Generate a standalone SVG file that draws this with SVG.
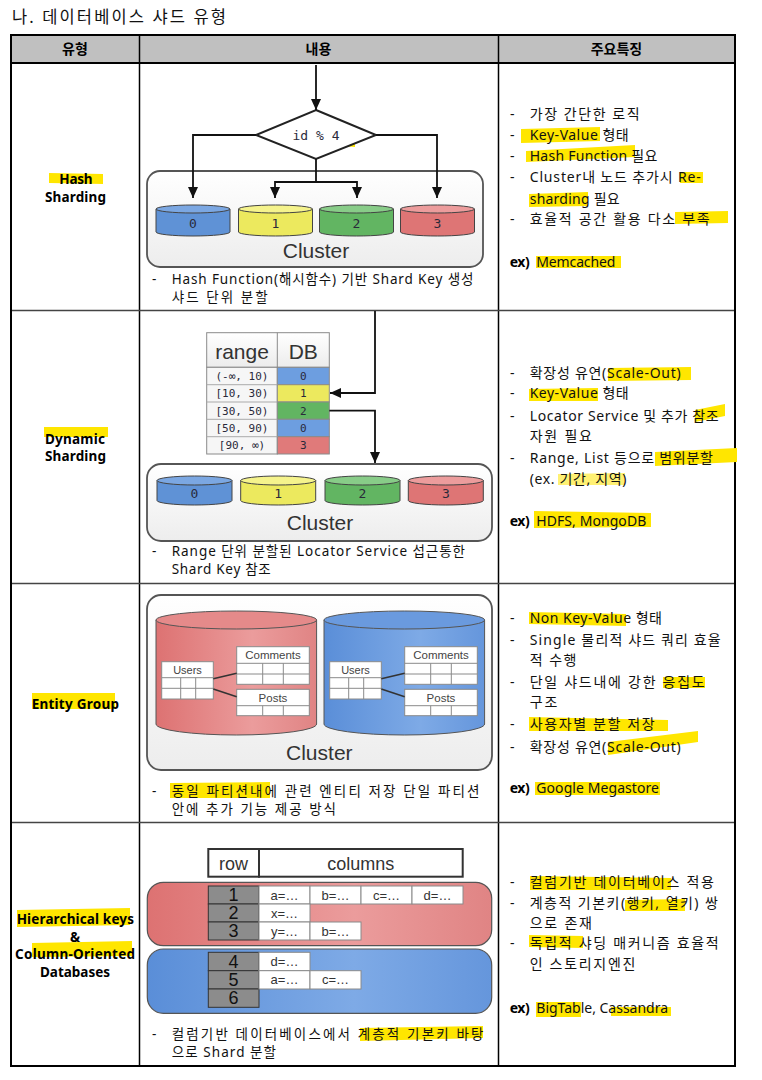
<svg xmlns="http://www.w3.org/2000/svg" width="762" height="1080" viewBox="0 0 762 1080">
<defs>
<style>
.k{font-family:"Noto Sans","Noto Sans CJK KR",sans-serif;font-size:14px;fill:#111}
.c{font-family:"Noto Sans","Noto Sans CJK KR",sans-serif;font-size:13.5px;fill:#111}
.kb{font-family:"Noto Sans","Noto Sans CJK KR",sans-serif;font-size:13.5px;font-weight:bold;fill:#000}
.hd{font-family:"Noto Sans","Noto Sans CJK KR",sans-serif;font-size:14px;font-weight:bold;fill:#000;text-anchor:middle}
.hl{fill:#ffe600}
.hv{font-family:"Liberation Sans",Arial,sans-serif;fill:#333}
.mono{font-family:"DejaVu Sans Mono","Liberation Mono",monospace;fill:#2a2a3a}
.cyl{stroke:#444;stroke-width:1}
.conn{stroke:#111;stroke-width:1.8;fill:none}
.elink{stroke:#333;stroke-width:1.5;fill:none}
.cell{fill:#fff;stroke:#8a8a8a;stroke-width:1}
.clu{fill:url(#clg);stroke:#555;stroke-width:1.8}
.mid{text-anchor:middle}
</style>
<marker id="ah" markerUnits="userSpaceOnUse" markerWidth="11" markerHeight="10" refX="11" refY="5" orient="auto"><path d="M0,0 L11,5 L0,10 Z" fill="#111"/></marker>
<linearGradient id="clg" x1="0" y1="0" x2="0" y2="1"><stop offset="0" stop-color="#ffffff"/><stop offset="1" stop-color="#ededed"/></linearGradient>
<linearGradient id="redg" x1="0" y1="0" x2="1" y2="0"><stop offset="0" stop-color="#dd7272"/><stop offset="0.6" stop-color="#eb9c9c"/><stop offset="1" stop-color="#e08484"/></linearGradient>
<linearGradient id="blueg" x1="0" y1="0" x2="1" y2="0"><stop offset="0" stop-color="#5a8ed8"/><stop offset="0.6" stop-color="#7eaae6"/><stop offset="1" stop-color="#6596dc"/></linearGradient>
<linearGradient id="hdrg" x1="0" y1="0" x2="0" y2="1"><stop offset="0" stop-color="#ffffff"/><stop offset="1" stop-color="#ececec"/></linearGradient>
</defs>
<rect width="762" height="1080" fill="#fff"/>

<g id="title"><text class="k" x="12" y="23" style="font-size:16.5px" textLength="214">나. 데이터베이스 샤드 유형</text></g>

<g id="table-grid">
<rect x="11" y="35" width="724" height="28" fill="#c0c0c0"/>
<line x1="11" y1="63" x2="735" y2="63" stroke="#000" stroke-width="2"/>
<line x1="139.5" y1="35" x2="139.5" y2="1066" stroke="#000" stroke-width="1.5"/>
<line x1="498.5" y1="35" x2="498.5" y2="1066" stroke="#000" stroke-width="1.5"/>
<line x1="11" y1="310.5" x2="735" y2="310.5" stroke="#444" stroke-width="1.5"/>
<line x1="11" y1="583.5" x2="735" y2="583.5" stroke="#444" stroke-width="1.5"/>
<line x1="11" y1="822.5" x2="735" y2="822.5" stroke="#444" stroke-width="1.5"/>
<rect x="11" y="35" width="724" height="1031" fill="none" stroke="#000" stroke-width="2"/>
<text class="hd" x="75" y="54">유형</text>
<text class="hd" x="318.5" y="54">내용</text>
<text class="hd" x="616.5" y="54">주요특징</text>
</g>

<g id="highlights">
<polygon class="hl" points="49,173 103,174 103,184 49,183"/>
<polygon class="hl" points="44,427 108,427 108,437 44,437"/>
<polygon class="hl" points="32,693 115,693 115,709 32,709"/>
<polygon class="hl" points="17,910 130,908 130,925 17,927"/>
<polygon class="hl" points="32,943 132,941 132,956 32,957"/>
<polygon class="hl" points="287,129 355,133 355,147 287,142"/>
<polygon class="hl" points="170,783 270,782 270,798 170,798"/>
<polygon class="hl" points="360,1028 483,1026 483,1038 360,1041"/>
<polygon class="hl" points="521,129 600,127 600,141 521,143"/>
<polygon class="hl" points="526,151 635,145 635,157 526,162"/>
<polygon class="hl" points="680,172 703,172 703,183 680,183"/>
<polygon class="hl" points="529,194 588,192 588,206 529,207"/>
<polygon class="hl" points="675,212 728,211 728,223 675,224"/>
<polygon class="hl" points="536,256 621,256 621,268 536,268"/>
<polygon class="hl" points="608,368 691,367 691,380 608,381"/>
<polygon class="hl" points="529,389 598,388 598,401 529,401"/>
<polygon class="hl" points="695,410 725,404 725,416 695,422"/>
<polygon class="hl" points="655,452 737,448 737,462 655,466"/>
<polygon class="hl" points="558,474 625,473 625,485 558,485" opacity="0.55"/>
<polygon class="hl" points="534,511 651,513 651,527 534,528"/>
<polygon class="hl" points="529,612 626,614 626,626 529,624"/>
<polygon class="hl" points="663,677 705,677 705,688 663,688"/>
<polygon class="hl" points="529,717 668,720 668,731 529,731"/>
<polygon class="hl" points="608,742 698,731 698,742 608,755"/>
<polygon class="hl" points="535,782 660,782 660,795 535,795"/>
<polygon class="hl" points="530,876 671,878 671,890 530,890"/>
<polygon class="hl" points="625,900 685,899 685,911 625,911"/>
<polygon class="hl" points="529,935 583,936 583,948 529,947"/>
<polygon class="hl" points="536,1002 581,1002 581,1017 536,1017"/>
<polygon class="hl" points="611,1007 671,1007 671,1016 611,1016"/>
</g>

<g id="type-labels">
<text class="kb mid" x="76" y="184.3" textLength="33.3">Hash</text>
<text class="kb mid" x="75.5" y="201.7" textLength="61">Sharding</text>
<text class="kb mid" x="75" y="443.7" textLength="60">Dynamic</text>
<text class="kb mid" x="75.5" y="461" textLength="61">Sharding</text>
<text class="kb mid" x="75.3" y="709" textLength="87.3">Entity Group</text>
<text class="kb mid" x="75.3" y="924.3" textLength="117.3">Hierarchical keys</text>
<text class="kb mid" x="75" y="941.7">&amp;</text>
<text class="kb mid" x="75" y="959" textLength="120">Column-Oriented</text>
<text class="kb mid" x="75" y="976.7" textLength="70">Databases</text>
</g>

<!-- Hash sharding diagram -->
<g id="hash-cluster">
<rect class="clu" x="147" y="171" width="336" height="96" rx="13"/>
<text class="hv mid" x="316" y="258" style="font-size:21px">Cluster</text>
</g>
<g id="hash-diamond">
<polygon points="316,110 376,135 316,159 256,135" fill="#fff" stroke="#222" stroke-width="2"/>
<text class="mono mid" x="316" y="139.5" style="font-size:13px">id % 4</text>
</g>
<g id="hash-shard-0">
<path class="cyl" d="M156,209 V232 A37,4 0 0 0 230,232 V209 Z" fill="#5f92d6"/>
<ellipse class="cyl" cx="193" cy="209" rx="37" ry="4" fill="#7ba7e2"/>
<text class="mono mid" x="193" y="227.5" style="font-size:13px">0</text>
</g>
<g id="hash-shard-1">
<path class="cyl" d="M238.5,209 V232 A37,4 0 0 0 312.5,232 V209 Z" fill="#ece95e"/>
<ellipse class="cyl" cx="275.5" cy="209" rx="37" ry="4" fill="#f5f38c"/>
<text class="mono mid" x="275.5" y="227.5" style="font-size:13px">1</text>
</g>
<g id="hash-shard-2">
<path class="cyl" d="M319.5,209 V232 A37,4 0 0 0 393.5,232 V209 Z" fill="#62b562"/>
<ellipse class="cyl" cx="356.5" cy="209" rx="37" ry="4" fill="#88cc88"/>
<text class="mono mid" x="356.5" y="227.5" style="font-size:13px">2</text>
</g>
<g id="hash-shard-3">
<path class="cyl" d="M400.5,209 V232 A37,4 0 0 0 474.5,232 V209 Z" fill="#de7575"/>
<ellipse class="cyl" cx="437.5" cy="209" rx="37" ry="4" fill="#ec9c9c"/>
<text class="mono mid" x="437.5" y="227.5" style="font-size:13px">3</text>
</g>
<g id="hash-caption">
<text class="c" x="152" y="284">-</text>
<text class="c" x="171.7" y="284" textLength="301.7">Hash Function(해시함수) 기반 Shard Key 생성</text>
<text class="c" x="171.7" y="302" textLength="96">샤드 단위 분할</text>
</g>

<!-- Dynamic sharding diagram -->
<g id="dyn-locator-table">
<rect x="206.7" y="332.7" width="122.6" height="34.6" fill="url(#hdrg)" stroke="#8a8a8a"/>
<rect x="206.7" y="367.3" width="70.6" height="86.7" fill="#f6f6f6" stroke="#8a8a8a"/>
<rect x="277.3" y="367.3" width="52" height="17.4" fill="#6d9ee0" stroke="#8a8a8a"/>
<rect x="277.3" y="384.7" width="52" height="17.3" fill="#ece95e" stroke="#8a8a8a"/>
<rect x="277.3" y="402" width="52" height="17.3" fill="#62b562" stroke="#8a8a8a"/>
<rect x="277.3" y="419.3" width="52" height="17.4" fill="#6d9ee0" stroke="#8a8a8a"/>
<rect x="277.3" y="436.7" width="52" height="17.3" fill="#e07a7a" stroke="#8a8a8a"/>
<line x1="277.3" y1="332.7" x2="277.3" y2="367.3" stroke="#8a8a8a"/>
<line x1="206.7" y1="384.7" x2="277.3" y2="384.7" stroke="#aaa"/>
<line x1="206.7" y1="402" x2="277.3" y2="402" stroke="#aaa"/>
<line x1="206.7" y1="419.3" x2="277.3" y2="419.3" stroke="#aaa"/>
<line x1="206.7" y1="436.7" x2="277.3" y2="436.7" stroke="#aaa"/>
<text class="hv mid" x="242" y="358.5" style="font-size:21px">range</text>
<text class="hv mid" x="303.3" y="358.5" style="font-size:21px">DB</text>
<text class="mono mid" x="242" y="380" style="font-size:11px">(-∞, 10)</text>
<text class="mono mid" x="242" y="397.3" style="font-size:11px">[10, 30)</text>
<text class="mono mid" x="242" y="414.7" style="font-size:11px">[30, 50)</text>
<text class="mono mid" x="242" y="432" style="font-size:11px">[50, 90)</text>
<text class="mono mid" x="242" y="449.3" style="font-size:11px">[90, ∞)</text>
<text class="mono mid" x="303.3" y="380" style="font-size:11px">0</text>
<text class="mono mid" x="303.3" y="397.3" style="font-size:11px">1</text>
<text class="mono mid" x="303.3" y="414.7" style="font-size:11px">2</text>
<text class="mono mid" x="303.3" y="432" style="font-size:11px">0</text>
<text class="mono mid" x="303.3" y="449.3" style="font-size:11px">3</text>
</g>
<g id="dyn-cluster">
<rect class="clu" x="147" y="464" width="345" height="77" rx="14"/>
<text class="hv mid" x="320" y="530" style="font-size:21px">Cluster</text>
</g>
<g id="dyn-shard-0">
<path class="cyl" d="M157,480.5 V500.5 A37.5,4.5 0 0 0 232,500.5 V480.5 Z" fill="#5f92d6"/>
<ellipse class="cyl" cx="194.5" cy="480.5" rx="37.5" ry="4.5" fill="#7ba7e2"/>
<text class="mono mid" x="194.5" y="497.5" style="font-size:13px">0</text>
</g>
<g id="dyn-shard-1">
<path class="cyl" d="M240.7,480.5 V500.5 A37.5,4.5 0 0 0 315.7,500.5 V480.5 Z" fill="#ece95e"/>
<ellipse class="cyl" cx="278.2" cy="480.5" rx="37.5" ry="4.5" fill="#f5f38c"/>
<text class="mono mid" x="278.2" y="497.5" style="font-size:13px">1</text>
</g>
<g id="dyn-shard-2">
<path class="cyl" d="M325,480.5 V500.5 A37.5,4.5 0 0 0 400,500.5 V480.5 Z" fill="#62b562"/>
<ellipse class="cyl" cx="362.5" cy="480.5" rx="37.5" ry="4.5" fill="#88cc88"/>
<text class="mono mid" x="362.5" y="497.5" style="font-size:13px">2</text>
</g>
<g id="dyn-shard-3">
<path class="cyl" d="M408.3,480.5 V500.5 A37.5,4.5 0 0 0 483.3,500.5 V480.5 Z" fill="#de7575"/>
<ellipse class="cyl" cx="445.8" cy="480.5" rx="37.5" ry="4.5" fill="#ec9c9c"/>
<text class="mono mid" x="445.8" y="497.5" style="font-size:13px">3</text>
</g>
<g id="dyn-caption">
<text class="c" x="152" y="556">-</text>
<text class="c" x="171.7" y="556" textLength="293.3">Range 단위 분할된 Locator Service 섭근통한</text>
<text class="c" x="171.7" y="574" textLength="99">Shard Key 참조</text>
</g>

<!-- Entity group diagram -->
<g id="entity-cluster">
<rect class="clu" x="147" y="595" width="345" height="175" rx="14"/>
<text class="hv mid" x="319.3" y="760" style="font-size:21px">Cluster</text>
</g>
<g id="entity-shard-red">
<path d="M156,620 V724 A80.3,11 0 0 0 316.6,724 V620 Z" fill="url(#redg)" stroke="#555"/>
<ellipse cx="236.3" cy="620" rx="80.3" ry="9" fill="#e58a8a" stroke="#555"/>
</g>
<g id="entity-shard-blue">
<path d="M324,620 V724 A80.3,11 0 0 0 484.6,724 V620 Z" fill="url(#blueg)" stroke="#555"/>
<ellipse cx="404.3" cy="620" rx="80.3" ry="9" fill="#6a9ade" stroke="#555"/>
</g>
<g id="entity-red-users">
<rect class="cell" x="161.7" y="661.7" width="51.6" height="37.3"/>
<path d="M161.7,677.7 H213.3 M161.7,688.3 H213.3 M180.7,677.7 V699 M195.7,677.7 V699" stroke="#8a8a8a" fill="none"/>
<text class="hv mid" x="187.5" y="674" style="font-size:11px;fill:#444">Users</text>
</g>
<g id="entity-red-comments">
<rect class="cell" x="236.7" y="646.7" width="72.6" height="37.6"/>
<path d="M236.7,663.3 H309.3 M236.7,674 H309.3 M262.7,663.3 V684.3 M283.3,663.3 V684.3" stroke="#8a8a8a" fill="none"/>
<text class="hv mid" x="273" y="659" style="font-size:11.5px;fill:#444">Comments</text>
</g>
<g id="entity-red-posts">
<rect class="cell" x="236.7" y="689.3" width="72.6" height="26.4"/>
<path d="M236.7,705.7 H309.3 M262.7,705.7 V715.7 M283.3,705.7 V715.7" stroke="#8a8a8a" fill="none"/>
<text class="hv mid" x="273" y="702" style="font-size:11.5px;fill:#444">Posts</text>
</g>
<g id="entity-blue-users">
<rect class="cell" x="329.7" y="661.7" width="51.6" height="37.3"/>
<path d="M329.7,677.7 H381.3 M329.7,688.3 H381.3 M348.7,677.7 V699 M363.7,677.7 V699" stroke="#8a8a8a" fill="none"/>
<text class="hv mid" x="355.5" y="674" style="font-size:11px;fill:#444">Users</text>
</g>
<g id="entity-blue-comments">
<rect class="cell" x="404.7" y="646.7" width="72.6" height="37.6"/>
<path d="M404.7,663.3 H477.3 M404.7,674 H477.3 M430.7,663.3 V684.3 M451.3,663.3 V684.3" stroke="#8a8a8a" fill="none"/>
<text class="hv mid" x="441" y="659" style="font-size:11.5px;fill:#444">Comments</text>
</g>
<g id="entity-blue-posts">
<rect class="cell" x="404.7" y="689.3" width="72.6" height="26.4"/>
<path d="M404.7,705.7 H477.3 M430.7,705.7 V715.7 M451.3,705.7 V715.7" stroke="#8a8a8a" fill="none"/>
<text class="hv mid" x="441" y="702" style="font-size:11.5px;fill:#444">Posts</text>
</g>
<g id="entity-caption">
<text class="c" x="152" y="796">-</text>
<text class="c" x="171.7" y="796" textLength="307.7">동일 파티션내에 관련 엔티티 저장 단일 파티션</text>
<text class="c" x="171.7" y="814" textLength="164.3">안에 추가 기능 제공 방식</text>
</g>

<!-- Hierarchical keys diagram -->
<g id="hier-header">
<rect x="208.3" y="849" width="50.7" height="27.7" fill="#fff" stroke="#333" stroke-width="2"/>
<rect x="259" y="849" width="203.7" height="27.7" fill="#fff" stroke="#333" stroke-width="2"/>
<text class="hv mid" x="233.6" y="869.5" style="font-size:18px">row</text>
<text class="hv mid" x="360.8" y="869.5" style="font-size:18px">columns</text>
</g>
<g id="hier-shard-red">
<rect x="147.3" y="882.3" width="344.4" height="63.4" rx="16" fill="url(#redg)" stroke="#555" stroke-width="1.2"/>
<rect x="208.3" y="886" width="50.7" height="18" fill="#8c8c8c" stroke="#333"/>
<rect x="208.3" y="904" width="50.7" height="18" fill="#8c8c8c" stroke="#333"/>
<rect x="208.3" y="922" width="50.7" height="18" fill="#8c8c8c" stroke="#333"/>
<text class="hv mid" x="233.6" y="901" style="font-size:18px;fill:#111">1</text>
<text class="hv mid" x="233.6" y="919" style="font-size:18px;fill:#111">2</text>
<text class="hv mid" x="233.6" y="937" style="font-size:18px;fill:#111">3</text>
<rect class="cell" x="259" y="886" width="51" height="18"/>
<rect class="cell" x="310" y="886" width="51" height="18"/>
<rect class="cell" x="361" y="886" width="51" height="18"/>
<rect class="cell" x="412" y="886" width="51" height="18"/>
<rect class="cell" x="259" y="904" width="51" height="18"/>
<rect class="cell" x="259" y="922" width="51" height="18"/>
<rect class="cell" x="310" y="922" width="51" height="18"/>
<text class="hv mid" x="284.5" y="899.5" style="font-size:13px">a=…</text>
<text class="hv mid" x="335.5" y="899.5" style="font-size:13px">b=…</text>
<text class="hv mid" x="386.5" y="899.5" style="font-size:13px">c=…</text>
<text class="hv mid" x="437.5" y="899.5" style="font-size:13px">d=…</text>
<text class="hv mid" x="284.5" y="917.5" style="font-size:13px">x=…</text>
<text class="hv mid" x="284.5" y="935.5" style="font-size:13px">y=…</text>
<text class="hv mid" x="335.5" y="935.5" style="font-size:13px">b=…</text>
</g>
<g id="hier-shard-blue">
<rect x="147.3" y="949" width="344.4" height="64.3" rx="16" fill="url(#blueg)" stroke="#555" stroke-width="1.2"/>
<rect x="208.3" y="952.3" width="50.7" height="18.4" fill="#8c8c8c" stroke="#333"/>
<rect x="208.3" y="970.7" width="50.7" height="18.3" fill="#8c8c8c" stroke="#333"/>
<rect x="208.3" y="989" width="50.7" height="18.3" fill="#8c8c8c" stroke="#333"/>
<text class="hv mid" x="233.6" y="967.5" style="font-size:18px;fill:#111">4</text>
<text class="hv mid" x="233.6" y="986" style="font-size:18px;fill:#111">5</text>
<text class="hv mid" x="233.6" y="1004.3" style="font-size:18px;fill:#111">6</text>
<rect class="cell" x="259" y="952.3" width="51" height="18.4"/>
<rect class="cell" x="259" y="970.7" width="51" height="18.3"/>
<rect class="cell" x="310" y="970.7" width="51" height="18.3"/>
<text class="hv mid" x="284.5" y="966" style="font-size:13px">d=…</text>
<text class="hv mid" x="284.5" y="984.3" style="font-size:13px">a=…</text>
<text class="hv mid" x="335.5" y="984.3" style="font-size:13px">c=…</text>
</g>
<g id="hier-caption">
<text class="c" x="152" y="1039">-</text>
<text class="c" x="171.7" y="1039" textLength="311.7">컬럼기반 데이터베이스에서 계층적 기본키 바탕</text>
<text class="c" x="171.7" y="1057" textLength="104.3">으로 Shard 분할</text>
</g>

<!-- Features column -->
<g id="features-hash">
<text class="k" x="510" y="118.5">-</text><text class="k" x="529.7" y="118.5" textLength="110">가장 간단한 로직</text>
<text class="k" x="510" y="140">-</text><text class="k" x="529.7" y="140" textLength="99">Key-Value 형태</text>
<text class="k" x="510" y="160.7">-</text><text class="k" x="529.7" y="160.7" textLength="127.6">Hash Function 필요</text>
<text class="k" x="510" y="182.3">-</text><text class="k" x="529.7" y="182.3" textLength="171">Cluster내 노드 추가시 Re-</text>
<text class="k" x="529.7" y="204" textLength="90">sharding 필요</text>
<text class="k" x="510" y="224">-</text><text class="k" x="529.7" y="224" textLength="180">효율적 공간 활용 다소 부족</text>
<text class="kb" x="509.7" y="267.3" style="font-size:14px" textLength="20">ex)</text><text class="k" x="536.3" y="267.3" textLength="79">Memcached</text>
</g>
<g id="features-dynamic">
<text class="k" x="510" y="378">-</text><text class="k" x="529.7" y="378" textLength="151">확장성 유연(Scale-Out)</text>
<text class="k" x="510" y="398">-</text><text class="k" x="529.7" y="398" textLength="99">Key-Value 형태</text>
<text class="k" x="510" y="421">-</text><text class="k" x="529.7" y="421" textLength="189">Locator Service 및 추가 참조</text>
<text class="k" x="529.7" y="441" textLength="62.3">자원 필요</text>
<text class="k" x="510" y="463">-</text><text class="k" x="529.7" y="463" textLength="183.3">Range, List 등으로 범위분할</text>
<text class="k" x="529.7" y="484" textLength="96.7">(ex. 기간, 지역)</text>
<text class="kb" x="509.7" y="526" style="font-size:14px" textLength="20">ex)</text><text class="k" x="536.3" y="526" textLength="110">HDFS, MongoDB</text>
</g>
<g id="features-entity">
<text class="k" x="510" y="623">-</text><text class="k" x="529.7" y="623" textLength="132.3">Non Key-Value 형태</text>
<text class="k" x="510" y="645">-</text><text class="k" x="529.7" y="645" textLength="191">Single 물리적 샤드 쿼리 효율</text>
<text class="k" x="529.7" y="665" textLength="46.7">적 수행</text>
<text class="k" x="510" y="687">-</text><text class="k" x="529.7" y="687" textLength="175">단일 샤드내에 강한 응집도</text>
<text class="k" x="529.7" y="707" textLength="27.7">구조</text>
<text class="k" x="510" y="729">-</text><text class="k" x="529.7" y="729" textLength="125">사용자별 분할 저장</text>
<text class="k" x="510" y="752">-</text><text class="k" x="529.7" y="752" textLength="151">확장성 유연(Scale-Out)</text>
<text class="kb" x="509.7" y="793" style="font-size:14px" textLength="20">ex)</text><text class="k" x="536.3" y="793" textLength="122.7">Google Megastore</text>
</g>
<g id="features-hier">
<text class="k" x="510" y="887">-</text><text class="k" x="529.7" y="887" textLength="184.3">컬럼기반 데이터베이스 적용</text>
<text class="k" x="510" y="908">-</text><text class="k" x="529.7" y="908" textLength="188.3">계층적 기본키(행키, 열키) 쌍</text>
<text class="k" x="529.7" y="928" textLength="62.3">으로 존재</text>
<text class="k" x="510" y="948">-</text><text class="k" x="529.7" y="948" textLength="189">독립적 샤딩 매커니즘 효율적</text>
<text class="k" x="529.7" y="969" textLength="105.7">인 스토리지엔진</text>
<text class="kb" x="509.7" y="1013" style="font-size:14px" textLength="20">ex)</text><text class="k" x="536.3" y="1013" textLength="131.7">BigTable, Cassandra</text>
</g>

<g id="connectors">
<line class="conn" x1="316" y1="65" x2="316" y2="110" marker-end="url(#ah)"/>
<polyline class="conn" points="256,135 193,135 193,198" marker-end="url(#ah)"/>
<polyline class="conn" points="376,135 437,135 437,198" marker-end="url(#ah)"/>
<line class="conn" x1="316" y1="159" x2="316" y2="182"/>
<polyline class="conn" points="316,182 275,182 275,198" marker-end="url(#ah)"/>
<polyline class="conn" points="316,182 357,182 357,198" marker-end="url(#ah)"/>
<polyline class="conn" points="375,311 375,393 330,393" marker-end="url(#ah)"/>
<polyline class="conn" points="329.3,410.7 375,410.7 375,463" marker-end="url(#ah)"/>
<line class="elink" x1="213.3" y1="678.7" x2="236.7" y2="673.3"/>
<line class="elink" x1="213.3" y1="689" x2="236.7" y2="696.7"/>
<line class="elink" x1="381.3" y1="678.7" x2="404.7" y2="673.3"/>
<line class="elink" x1="381.3" y1="689" x2="404.7" y2="696.7"/>
</g>
</svg>
